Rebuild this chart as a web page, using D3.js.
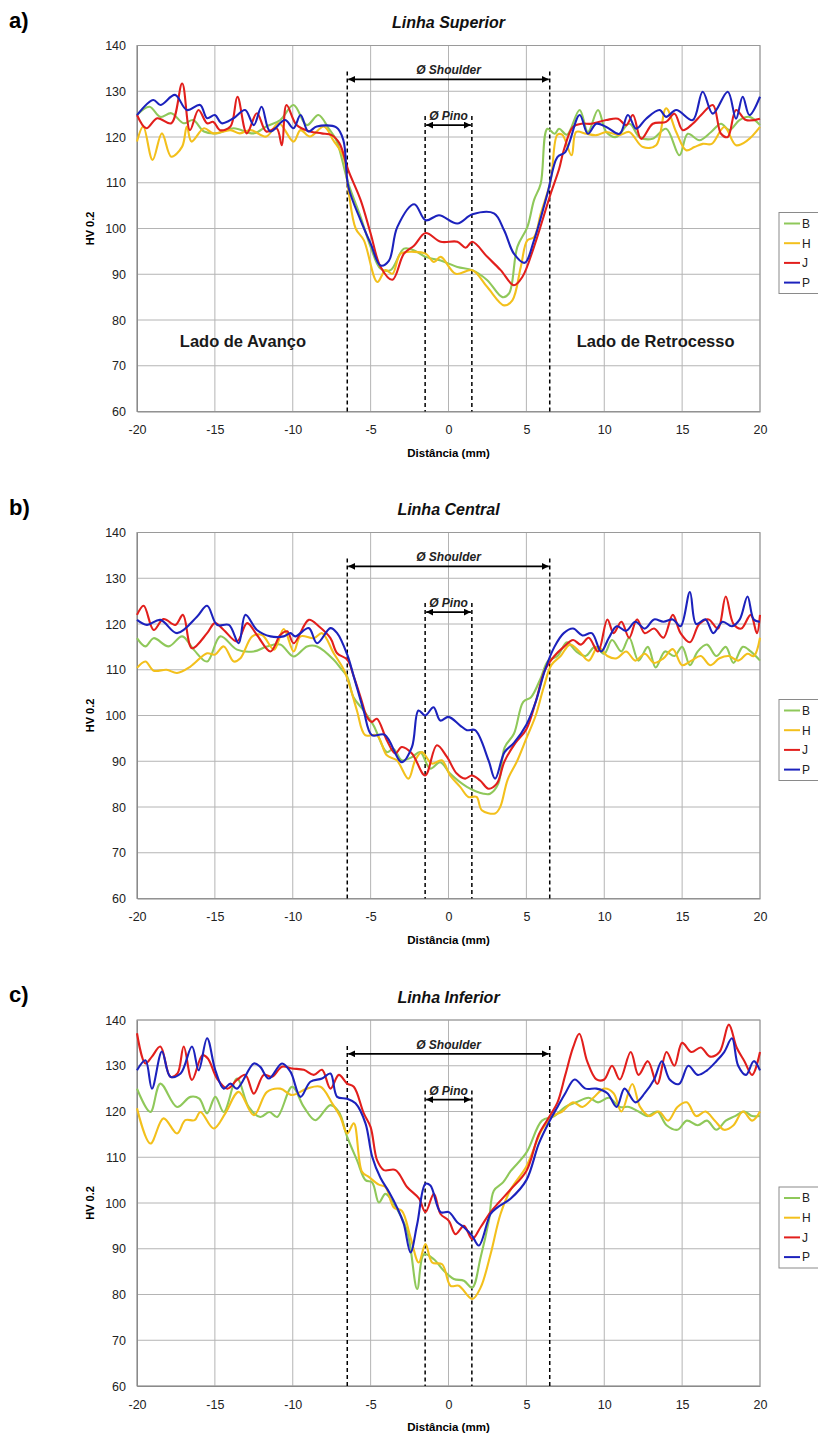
<!DOCTYPE html>
<html>
<head>
<meta charset="utf-8">
<script src="https://cdn.jsdelivr.net/npm/d3@7"></script>
<style>
body { margin: 0; background: #fff; }
text { font-family: "Liberation Sans", Arial, sans-serif; }
</style>
</head>
<body>
<div id="chart"></div>
<script>
// ---- data ----
const xTicks = [-20, -15, -10, -5, 0, 5, 10, 15, 20];
const yTicks = [60, 70, 80, 90, 100, 110, 120, 130, 140];
const seriesNames = ["B", "H", "J", "P"];
const seriesColors = ["#8fc85a", "#f3c01c", "#e21f1c", "#1c22bd"];
const panelLabels = ["a)", "b)", "c)"];
const panelTitles = ["Linha Superior", "Linha Central", "Linha Inferior"];
const shoulder = [-6.5, 6.5];
const pino = [-1.5, 1.5];

// a) Linha Superior
const supB = [[-20,124.8],[-19.2,126.6],[-18.5,124.4],[-17.8,125.2],[-17.0,123],[-16.4,123.7],[-15.7,121.2],[-14.9,120.8],[-13.8,121.9],[-12.5,120.8],[-11.7,122.3],[-10.8,123.7],[-9.95,127],[-9.1,122.6],[-8.35,124.8],[-7.7,121.9],[-7.2,119.3],[-6.43,109.8],[-5.64,102.5],[-5,96],[-4.36,91.2],[-3.72,90.9],[-2.86,95.6],[-2.2,95.2],[-1.47,93.8],[-0.5,93],[0.57,91.6],[1.53,90.9],[2.49,88.7],[3.46,85],[3.89,85.8],[4.42,96],[5.06,100.3],[5.49,106.2],[5.92,109.8],[6.35,121.8],[6.82,120.7],[7.1,121.8],[7.6,120.5],[8.42,125.9],[8.95,121.1],[9.6,125.9],[10.13,121.1],[10.77,120],[11.62,122.9],[12.26,120],[13.1,119.6],[13.97,121.8],[14.83,116],[15.36,120.7],[16.11,119.3],[16.86,121.1],[17.5,122.9],[18.03,121.5],[18.68,123.7],[19.32,124.4],[20,122.6]];
const supH = [[-20,119],[-19.6,122.3],[-19,115],[-18.4,120.8],[-17.8,115.7],[-17.1,117.9],[-16.8,122.3],[-16.5,119],[-15.7,121.9],[-15.1,120.8],[-14,121.5],[-13.4,120.8],[-12.7,121.5],[-11.7,120.1],[-10.9,123],[-9.95,119],[-9.5,121.5],[-8.9,120.1],[-8.0,122.3],[-7.4,119.3],[-6.75,115.7],[-6.43,108.4],[-5.96,100],[-5.43,97.4],[-4.57,88.3],[-4.04,90.9],[-3.6,90.1],[-3.07,94.5],[-2.2,94.9],[-1.47,94.5],[-0.93,92.7],[-0.5,93.8],[0.46,90.1],[1.53,90.9],[2.49,87.2],[3.57,83.2],[4.1,84.3],[4.64,91.6],[5.06,97.4],[5.49,98.1],[5.92,103.2],[6.56,110.5],[6.99,120.5],[7.3,120.5],[7.9,116],[8.2,121.1],[8.85,120.7],[9.49,120.4],[10.13,121.1],[10.98,120.4],[11.6,121.1],[12.48,117.8],[13.33,118.2],[13.97,126.3],[14.62,121.1],[15.26,117.1],[15.79,117.8],[16.32,118.5],[16.9,118.5],[17.71,122.2],[18.46,118.2],[19.21,119.3],[20,122.2]];
const supJ = [[-20,124.8],[-19.4,121.9],[-18.7,124.1],[-17.8,123],[-17.1,131.7],[-16.6,121.5],[-16.05,125.9],[-15.5,123],[-15.1,123.3],[-14.67,121.5],[-14,122.3],[-13.55,128.8],[-12.95,120.8],[-12.3,125.2],[-11.7,121.2],[-11.03,121.9],[-10.7,118.2],[-10.4,127],[-9.75,122.6],[-8.9,121.2],[-8.14,120.8],[-7.5,120.4],[-7,118.6],[-6.43,112.7],[-5.64,106.2],[-5,98.9],[-4.36,91.6],[-3.6,88.8],[-2.86,94.5],[-2.2,96.3],[-1.47,99],[-0.5,97.1],[0.57,97.1],[1.1,95.8],[1.53,97.1],[2.49,93.8],[3.35,90.9],[4.2,87.6],[4.74,89.4],[5.49,96],[6.56,107.6],[7.1,113],[7.4,117.1],[7.99,122.2],[8.53,122.9],[9.17,122.9],[10.13,123.7],[10.88,124],[11.41,122.6],[11.84,124.8],[12.37,119.6],[13.12,122.9],[13.97,123.3],[14.51,125.1],[15.04,121.5],[15.68,122.9],[16.22,124.8],[16.97,127],[17.5,120.7],[17.93,120],[18.46,125.9],[19.1,123.7],[20,124]];
const supP = [[-20,124.8],[-18.95,128.1],[-18.5,127],[-17.56,129.2],[-16.8,125.9],[-15.95,127],[-15.5,124.1],[-15,124.8],[-14.56,123],[-13.8,124.1],[-13.06,125.9],[-12.5,122.6],[-12,126.6],[-11.45,121.2],[-10.5,123.7],[-9.95,121.9],[-9.5,124.8],[-9,121.2],[-8.46,122.3],[-7.2,122.1],[-6.75,119.3],[-6.43,109.1],[-5.64,101.8],[-5,96.7],[-4.36,91.9],[-3.82,93],[-3.29,100.3],[-2.2,105.3],[-1.47,101.8],[-0.61,102.9],[0.57,101.1],[1.53,103.1],[2.92,103.3],[3.57,99.6],[4.2,94.5],[4.89,92.5],[5.49,97.4],[6.35,107.6],[6.99,115.6],[7.5,116.7],[8.42,124.8],[8.95,120.7],[9.49,122.9],[10.13,122.2],[10.98,120.7],[11.52,124.8],[12.05,121.8],[12.69,124],[13.55,125.9],[13.97,124.4],[14.62,125.9],[15.68,123.7],[16.32,129.9],[16.97,125.1],[17.93,129.9],[18.46,124],[18.89,128.8],[19.32,124.8],[20,128.8]];

// b) Linha Central
const cenB = [[-20,116.9],[-19.46,115.1],[-18.93,116.9],[-17.97,115.1],[-17.1,117.3],[-16.36,114.4],[-15.5,111.8],[-14.65,117.3],[-13.58,114.4],[-12.5,114],[-11.65,115.1],[-10.8,115.5],[-9.94,112.9],[-9.08,115.1],[-8.44,115.1],[-7.37,112.2],[-6.94,110.4],[-6.5,108.5],[-6.1,104],[-5.45,101.1],[-4.81,97.8],[-3.96,92],[-3.53,92.7],[-3,90.2],[-2.35,90.9],[-1.82,92],[-1.18,88.4],[-0.53,89.8],[0.1,87.3],[1.18,84.4],[2.25,82.9],[2.67,82.9],[3.2,85.1],[3.6,93],[4.2,96],[4.8,103],[5.3,104],[5.9,108],[6.4,112],[7,113],[7.6,116],[8.2,114],[8.8,113],[9.4,115],[10,113.5],[10.5,116.5],[11.1,114],[11.6,117],[12.2,112],[12.8,115],[13.3,110.5],[13.9,114],[14.5,113],[15,115],[15.5,111],[16,114],[16.6,115.5],[17.2,113],[17.8,115],[18.3,111.5],[18.9,115],[19.4,114],[20,112]];
const cenH = [[-20,110.4],[-19.46,111.8],[-18.93,109.8],[-18.1,110],[-17.43,109.3],[-16.57,110.7],[-15.5,113.6],[-15.0,113.3],[-14.43,115.1],[-13.79,111.8],[-13.36,112.5],[-12.6,117.3],[-11.97,117.6],[-11.2,114.4],[-10.58,118.9],[-9.94,114],[-9.5,117.3],[-8.65,116.9],[-8.12,118],[-7.37,113.6],[-6.72,110],[-6.3,106],[-5.88,101.1],[-5.35,95.7],[-4.6,95.7],[-3.96,91.3],[-3.32,90.2],[-2.57,86.2],[-2.14,90.2],[-1.71,92],[-1.07,89.5],[-0.43,90.2],[0.1,86.9],[0.75,84.4],[1.28,82.2],[1.8,82.2],[2.14,79.3],[2.99,78.6],[3.32,80],[3.8,86],[4.4,90],[5,95],[5.6,100],[6.1,106],[6.6,111],[7.2,113],[7.8,115.5],[8.4,114],[9,112],[9.6,115],[10.2,113],[10.8,112.5],[11.4,114],[12,112],[12.6,113.5],[13.2,111.5],[13.8,112.5],[14.4,114.5],[15,111],[15.6,112],[16.2,113],[16.8,111],[17.4,112.5],[18,113],[18.6,112],[19.2,113.5],[19.6,113],[20,117]];
const cenJ = [[-20,122],[-19.57,124],[-18.93,118.7],[-18.3,121.1],[-17.54,119.8],[-17.05,122],[-16.47,114.7],[-15.5,118],[-15,120.2],[-14.43,118.7],[-13.58,116.2],[-12.93,120.2],[-12.3,117.6],[-11.43,114],[-10.8,117.6],[-10.36,118.4],[-9.94,115.8],[-8.97,120.9],[-8.33,119.5],[-7.58,116.9],[-7.15,113.6],[-6.5,112.2],[-6.08,108.5],[-5.6,103.5],[-5.24,99.7],[-4.92,98.6],[-4.6,99.3],[-3.96,94.6],[-3.42,91.7],[-3,93.1],[-2.35,91.7],[-1.5,86.9],[-0.75,93.5],[-0.11,91],[0.53,87.3],[1.07,86.2],[1.5,86.9],[2.03,85.8],[2.57,84],[3.1,85.1],[3.6,90],[4.3,94],[5,97],[5.6,103],[6.2,110],[6.8,113],[7.4,115],[8,116.5],[8.5,115.5],[9,117],[9.6,114],[10.2,121],[10.6,118],[11.1,120.5],[11.6,117],[12.1,121],[12.6,118],[13.2,119],[13.8,117],[14.4,122],[14.9,118],[15.5,116],[16.1,120],[16.7,121],[17.3,119],[17.8,126],[18.3,120],[18.8,119],[19.4,122],[19.8,118],[20,122]];
const cenP = [[-20,120.9],[-19.36,119.8],[-18.5,120.9],[-17.43,118],[-16.15,121.6],[-15.5,124],[-14.86,119.8],[-14.1,119.8],[-13.47,115.8],[-13.04,122],[-12.3,118.7],[-11.43,117.3],[-10.58,117.3],[-10.15,118],[-9.83,117.3],[-8.97,119.1],[-8.44,115.8],[-7.58,119.1],[-7.15,118],[-6.5,113.3],[-6.08,108.5],[-5.45,101.1],[-4.92,95.7],[-4.1,95.8],[-3,89.8],[-2.35,93.1],[-1.93,101.1],[-1.5,100],[-0.96,101.8],[-0.53,98.9],[0,99.7],[0.75,97.8],[1.18,96.8],[1.71,96.8],[2.57,90.2],[2.99,86.2],[3.6,92],[4.2,94],[5,98],[5.6,103],[6.2,110],[6.8,115],[7.4,118],[8,119],[8.6,117.5],[9.2,118],[9.8,114],[10.3,117],[10.8,119.5],[11.4,118.5],[12,120.5],[12.6,119],[13.2,121],[13.8,120.5],[14.4,121],[14.9,119.5],[15.5,127],[15.9,120],[16.5,121],[17,118],[17.6,120.5],[18.2,119.5],[18.7,121],[19.2,126],[19.6,121],[20,120.5]];

// c) Linha Inferior
const infB = [[-20,125],[-19.14,119.9],[-18.5,126.1],[-17.43,121],[-16.57,123.2],[-16,122.8],[-15.5,119.6],[-14.97,123.2],[-14.43,119.9],[-13.58,127.2],[-12.83,121],[-12.08,118.8],[-11.5,119.9],[-11,118.8],[-10.04,125.4],[-9.29,121],[-8.55,118.1],[-7.58,121.4],[-7.04,119.9],[-6.51,114.5],[-5.87,109.3],[-5.33,105],[-4.9,104.5],[-4.47,100.1],[-4.05,102],[-3.51,99.8],[-2.66,93.9],[-2.01,81.2],[-1.58,88.8],[-0.94,87.7],[-0.3,85.2],[0.34,83.4],[0.99,83],[1.52,81.5],[2.06,88.1],[2.59,96.1],[2.91,102.7],[3.5,104.5],[4,107],[5,111],[6,118],[6.8,119],[7.5,121],[8.2,122],[9,123],[9.6,122],[10.3,123],[11,121],[11.6,121],[12.2,120],[12.8,119],[13.4,120],[14,117],[14.7,116],[15.3,118],[16,117],[16.6,118],[17.2,116],[17.8,118],[18.4,119],[19,120],[19.5,119],[20,119]];
const infH = [[-20,120.7],[-19.14,113],[-18.3,118.5],[-17.43,115.2],[-16.9,118.1],[-16.3,118.1],[-15.93,119.9],[-15.08,116.3],[-14.33,119.6],[-13.47,124.3],[-12.5,119.2],[-11.65,124.3],[-10.8,125],[-10.04,123.6],[-9.08,125],[-8.22,125.4],[-7.47,121.8],[-6.94,118.8],[-6.5,115.2],[-6.08,117.4],[-5.55,106.8],[-5.12,105.7],[-4.47,104],[-4.05,103.5],[-3.51,99],[-3.0,98.3],[-2.44,92.5],[-1.91,87],[-1.48,91],[-1.05,87],[-0.41,86.6],[0.13,81.9],[0.66,81.9],[1.52,79],[2.06,81.5],[2.7,88.8],[3.34,97.6],[4,103],[5,108],[6,116],[6.7,119],[7.3,120],[8,122],[8.6,121],[9.3,123],[10,125],[10.6,124],[11.1,120],[11.8,126],[12.3,121],[12.9,119],[13.5,120],[14.1,118],[14.7,121],[15.3,122],[15.9,119],[16.5,120],[17.1,118],[17.7,116],[18.3,117],[18.9,120],[19.5,118],[20,120]];
const infJ = [[-20,137.1],[-19.46,130.5],[-19.04,132],[-18.5,134.2],[-17.86,127.6],[-17.4,128.3],[-17,134.2],[-16.47,126.9],[-15.8,132.3],[-15.45,131.6],[-14.86,127.2],[-14.2,125],[-13.58,126.9],[-13.04,128],[-12.5,123.9],[-11.86,128],[-11.33,127.6],[-10.69,129.8],[-10.04,129.4],[-9.29,129.1],[-8.65,128],[-8.12,129.1],[-7.58,125],[-7.04,128],[-6.51,126.1],[-6.08,125.4],[-5.44,119.6],[-5,116.6],[-4.58,109.3],[-4.15,107.2],[-3.4,107.2],[-2.66,103.5],[-1.9,101],[-1.48,98],[-0.94,102],[-0.51,97.6],[0.02,96.1],[0.45,93.2],[0.99,95],[1.52,92.1],[2.06,94.7],[2.7,98],[3.23,100.1],[4,103],[5,107],[5.8,115],[6.5,119],[7,122],[7.5,128],[8,134],[8.4,137],[8.9,131],[9.5,127],[10,127],[10.5,130],[11,127],[11.7,133],[12.2,128],[12.8,131],[13.4,126],[14,133],[14.5,130],[15,135],[15.6,133],[16.2,134],[16.8,132],[17.4,133],[18,139],[18.5,134],[19,131],[19.5,128],[20,133]];
const infP = [[-20,129],[-19.46,131.2],[-19.04,125],[-18.4,133.1],[-17.86,127.6],[-17.2,128.3],[-16.47,134.2],[-16.04,129],[-15.5,136],[-14.97,129],[-14.43,125],[-14,126.1],[-13.58,125],[-12.5,130.5],[-12.1,129.8],[-11.54,127.2],[-10.69,130.5],[-10.15,128.7],[-9.5,123.2],[-8.87,126.5],[-8.12,127.2],[-7.58,128.3],[-7.15,123.2],[-6.51,122.8],[-5.97,121.8],[-5.33,117.4],[-4.9,110.1],[-4.37,105.5],[-3.8,102.3],[-3.3,99],[-2.87,95.4],[-2.44,89.2],[-2.01,95.4],[-1.48,104.2],[-1.16,103.8],[-0.51,98],[0.02,98],[0.56,95.8],[0.99,94.7],[1.52,92.8],[1.95,90.7],[2.7,97.6],[3.13,99],[4,101],[5,105],[5.8,113],[6.5,118],[7,121],[7.5,124],[8.1,127],[8.8,125],[9.5,125],[10.2,124],[10.8,121],[11.3,125],[12,122],[12.6,124],[13.2,127],[13.7,131],[14.2,127],[14.8,126],[15.4,130],[16,128],[16.6,129],[17.2,131],[17.7,133],[18.2,136],[18.6,130],[19.1,128],[19.6,131],[20,129]];

const panelSeries = [
  [supB, supH, supJ, supP],
  [cenB, cenH, cenJ, cenP],
  [infB, infH, infJ, infP]
];

// ---- layout ----
const W = 818, H = 1435;
const plotLeft = 137, plotW = 623, plotH = 366;
const panelTops = [45.5, 532.5, 1020];

const svg = d3.select("#chart").append("svg")
  .attr("width", W).attr("height", H);

const defs = svg.append("defs");
["arrS", "arrE"].forEach((id, i) => {
  defs.append("marker")
    .attr("id", id)
    .attr("viewBox", "0 0 10 10")
    .attr("refX", i == 0 ? 0 : 10).attr("refY", 5)
    .attr("markerWidth", 7).attr("markerHeight", 7)
    .attr("markerUnits", "userSpaceOnUse")
    .attr("orient", "auto")
    .append("path")
    .attr("d", i == 0 ? "M10,0 L0,5 L10,10 z" : "M0,0 L10,5 L0,10 z")
    .attr("fill", "#000");
});

const x = d3.scaleLinear().domain([-20, 20]).range([0, plotW]);
const y = d3.scaleLinear().domain([60, 140]).range([plotH, 0]);

const line = d3.line()
  .x(d => x(d[0]))
  .y(d => y(d[1]))
  .curve(d3.curveCatmullRom.alpha(0.5));

panelTops.forEach((top, p) => {
  const g = svg.append("g").attr("transform", "translate(" + plotLeft + "," + top + ")");

  // panel letter + title
  svg.append("text")
    .attr("x", 9).attr("y", top - 18)
    .attr("font-size", 22).attr("font-weight", "bold")
    .text(panelLabels[p]);
  g.append("text")
    .attr("x", plotW / 2).attr("y", -17.5)
    .attr("text-anchor", "middle")
    .attr("font-size", 16).attr("font-weight", "bold").attr("font-style", "italic")
    .attr("fill", "#111")
    .text(panelTitles[p]);

  // grid
  g.append("g").selectAll("line").data(yTicks).join("line")
    .attr("x1", 0).attr("x2", plotW)
    .attr("y1", d => y(d)).attr("y2", d => y(d))
    .attr("stroke", "#b4b4b4").attr("stroke-width", 1);
  g.append("g").selectAll("line").data(xTicks).join("line")
    .attr("y1", 0).attr("y2", plotH)
    .attr("x1", d => x(d)).attr("x2", d => x(d))
    .attr("stroke", "#b4b4b4").attr("stroke-width", 1);
  g.append("rect")
    .attr("width", plotW).attr("height", plotH)
    .attr("fill", "none").attr("stroke", "#9a9a9a");

  // axes
  const xAxis = g.append("g").attr("transform", "translate(0," + plotH + ")")
    .call(d3.axisBottom(x).tickValues(xTicks).tickFormat(d => String(d)).tickSize(0).tickPadding(14));
  const yAxis = g.append("g")
    .call(d3.axisLeft(y).tickValues(yTicks).tickFormat(d => String(d)).tickSize(0).tickPadding(11));
  [xAxis, yAxis].forEach(a => {
    a.select(".domain").attr("stroke", "#8a8a8a");
    a.selectAll("text").attr("font-size", 12.5).attr("fill", "#222")
      .attr("font-family", "'Liberation Sans', Arial, sans-serif");
  });

  g.append("text")
    .attr("x", plotW / 2).attr("y", plotH + 45)
    .attr("text-anchor", "middle")
    .attr("font-size", 11.5).attr("font-weight", "bold")
    .text("Distância (mm)");
  g.append("text")
    .attr("transform", "translate(-43," + (plotH / 2) + ") rotate(-90)")
    .attr("text-anchor", "middle")
    .attr("font-size", 11).attr("font-weight", "bold")
    .text("HV 0.2");

  // shoulder / pin markers
  const dashed = [[shoulder, 134.3], [pino, 124.6]];
  dashed.forEach(([pair, v]) => {
    g.append("g").selectAll("line").data(pair).join("line")
      .attr("x1", d => x(d)).attr("x2", d => x(d))
      .attr("y1", y(v)).attr("y2", plotH)
      .attr("stroke", "#000").attr("stroke-width", 1.5)
      .attr("stroke-dasharray", "4,3");
  });
  const arrows = [[shoulder, 132.6, "Ø Shoulder"], [pino, 122.6, "Ø Pino"]];
  arrows.forEach(([pair, v, label]) => {
    g.append("line")
      .attr("x1", x(pair[0]) + 1).attr("x2", x(pair[1]) - 1)
      .attr("y1", y(v)).attr("y2", y(v))
      .attr("stroke", "#000").attr("stroke-width", 1.6)
      .attr("marker-start", "url(#arrS)").attr("marker-end", "url(#arrE)");
    g.append("text")
      .attr("x", x(0)).attr("y", y(v) - 5)
      .attr("text-anchor", "middle")
      .attr("font-size", 12).attr("font-weight", "bold").attr("font-style", "italic")
      .attr("fill", "#222")
      .text(label);
  });

  if (p == 0) {
    [[-13.2, "Lado de Avanço"], [13.3, "Lado de Retrocesso"]].forEach(([xv, t]) => {
      g.append("text")
        .attr("x", x(xv)).attr("y", y(74.1))
        .attr("text-anchor", "middle")
        .attr("font-family", "Lato, 'Open Sans', sans-serif")
        .attr("font-size", 16.5).attr("font-weight", "bold")
        .attr("fill", "#1a1a1a")
        .text(t);
    });
  }

  // series
  panelSeries[p].forEach((data, i) => {
    g.append("path")
      .datum(data)
      .attr("d", line)
      .attr("fill", "none")
      .attr("stroke", seriesColors[i])
      .attr("stroke-width", 2.1)
      .attr("stroke-linejoin", "round");
  });

  // legend
  const lg = svg.append("g").attr("transform", "translate(779," + (top + 167) + ")");
  lg.append("rect")
    .attr("width", 60).attr("height", 81)
    .attr("fill", "#fff").attr("stroke", "#8a8a8a");
  seriesNames.forEach((s, i) => {
    const yy = 11 + i * 19.7;
    lg.append("line")
      .attr("x1", 5).attr("x2", 21).attr("y1", yy).attr("y2", yy)
      .attr("stroke", seriesColors[i]).attr("stroke-width", 2);
    lg.append("text")
      .attr("x", 23).attr("y", yy + 4.3)
      .attr("font-size", 12).attr("fill", "#222")
      .text(s);
  });
});
</script>
</body>
</html>
